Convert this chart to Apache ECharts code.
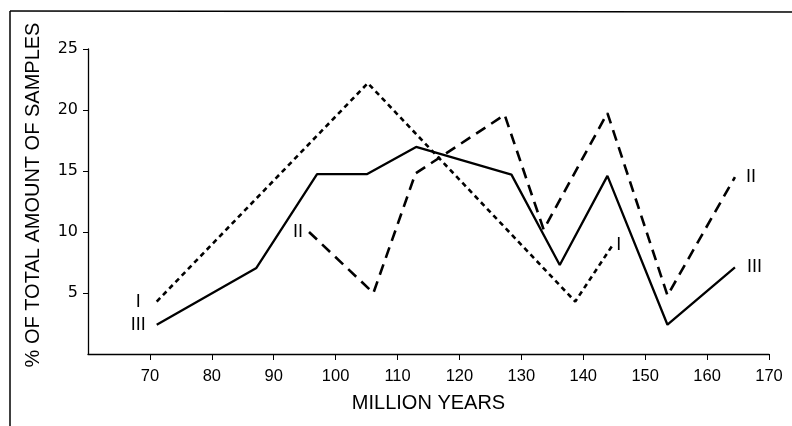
<!DOCTYPE html>
<html>
<head>
<meta charset="utf-8">
<script src="https://cdn.jsdelivr.net/npm/echarts@6/dist/echarts.min.js"></script>
<style>
html,body{margin:0;padding:0;background:#fff;}
#chart{width:792px;height:426px;}
</style>
</head>
<body>
<div id="chart"></div>
<script>
// Series I (short dashes)
const seriesI_x = [71.1, 105.2, 138.7, 144.7];
const seriesI_y = [4.3, 22.2, 4.3, 8.9];
// Series II (long dashes)
const seriesII_x = [95.7, 106.1, 112.9, 127.3, 133.6, 143.9, 153.6, 164.5];
const seriesII_y = [10.0, 5.0, 14.8, 19.6, 10.2, 19.75, 4.8, 14.5];
// Series III (solid)
const seriesIII_x = [71.1, 87.2, 97.0, 105.1, 113.0, 128.4, 136.2, 143.9, 153.6, 164.5];
const seriesIII_y = [2.4, 7.05, 14.75, 14.75, 16.97, 14.7, 7.3, 14.6, 2.4, 7.1];
const seriesNames = ['I', 'II', 'III'];
const xTicks = [70, 80, 90, 100, 110, 120, 130, 140, 150, 160, 170];
const yTicks = [5, 10, 15, 20, 25];

const labelFont = {fontFamily: 'Liberation Sans', fontSize: 18, color: '#000'};

function buildData(xs, ys, name, startDist, endDist) {
  return xs.map((x, i) => {
    const item = {value: [x, ys[i]]};
    if (i === 0) {
      item.label = Object.assign({show: true, position: 'left', distance: startDist, formatter: name}, labelFont);
    } else if (i === xs.length - 1) {
      item.label = Object.assign({show: true, position: 'right', distance: endDist, formatter: name}, labelFont);
    }
    return item;
  });
}

const chart = echarts.init(document.getElementById('chart'), null, {renderer: 'canvas'});
const common = {
  type: 'line',
  symbol: 'circle',
  symbolSize: 2,
  showSymbol: true,
  showAllSymbol: true,
  silent: true,
  itemStyle: {color: 'rgba(0,0,0,0)', borderWidth: 0},
  emphasis: {disabled: true}
};

chart.setOption({
  animation: false,
  backgroundColor: '#fff',
  grid: {left: 88, right: 23, top: 49, bottom: 72, containLabel: false},
  xAxis: {
    type: 'value', min: 60, max: 170, interval: 10,
    name: 'MILLION YEARS', nameLocation: 'middle', nameGap: 39,
    nameTextStyle: {fontFamily: 'Liberation Sans', fontSize: 20, color: '#000'},
    axisLine: {show: true, lineStyle: {color: '#000', width: 1.3}},
    axisTick: {show: true, length: 6, inside: false, customValues: xTicks, lineStyle: {color: '#000', width: 1}},
    axisLabel: {customValues: xTicks, margin: 14, fontFamily: 'Liberation Sans', fontSize: 16.5, color: '#000'},
    splitLine: {show: false}
  },
  yAxis: {
    type: 'value', min: 0, max: 25, interval: 5,
    name: '% OF TOTAL AMOUNT OF SAMPLES', nameLocation: 'middle', nameGap: 45, nameRotate: 90,
    nameTextStyle: {fontFamily: 'Liberation Sans', fontSize: 20, color: '#000', padding: [0, 0, 0, 13]},
    axisLine: {show: true, lineStyle: {color: '#000', width: 1.3}},
    axisTick: {show: true, length: 5, inside: false, customValues: yTicks, lineStyle: {color: '#000', width: 1}},
    axisLabel: {customValues: yTicks, margin: 10, fontFamily: 'DejaVu Sans', fontSize: 16, color: '#000'},
    splitLine: {show: false}
  },
  graphic: [
    {type: 'line', shape: {x1: 10, y1: 11, x2: 792, y2: 12}, style: {stroke: '#000', lineWidth: 1.5}, silent: true},
    {type: 'line', shape: {x1: 10, y1: 11, x2: 10, y2: 426}, style: {stroke: '#000', lineWidth: 1.5}, silent: true}
  ],
  series: [
    Object.assign({}, common, {
      name: seriesNames[0],
      data: buildData(seriesI_x, seriesI_y, seriesNames[0], 15, 3),
      lineStyle: {color: '#000', width: 2.6, type: [5, 4], cap: 'butt'}
    }),
    Object.assign({}, common, {
      name: seriesNames[1],
      data: buildData(seriesII_x, seriesII_y, seriesNames[1], 5, 10),
      lineStyle: {color: '#000', width: 2.6, type: [11, 7], cap: 'butt'}
    }),
    Object.assign({}, common, {
      name: seriesNames[2],
      data: buildData(seriesIII_x, seriesIII_y, seriesNames[2], 10, 11),
      lineStyle: {color: '#000', width: 2.3, type: 'solid'}
    })
  ]
});
</script>
</body>
</html>
